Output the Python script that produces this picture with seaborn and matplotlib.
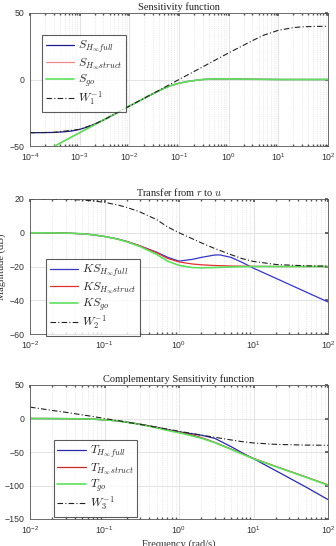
import numpy as np
import pandas as pd
import matplotlib
matplotlib.use("Agg")
import matplotlib.pyplot as plt
import seaborn as sns
from matplotlib.ticker import LogLocator, NullFormatter

# ---------------- data ----------------
# Plot 1: Sensitivity function
s_freq = [1e-4, 2e-4, 3e-4, 5e-4, 7e-4, 1e-3, 1.5e-3, 2e-3, 3e-3, 5e-3, 7e-3, 1e-2, 1.5e-2, 2e-2, 3e-2,
          5e-2, 7e-2, 1e-1, 1.5e-1, 2e-1, 3e-1, 5e-1, 1, 2, 5, 10, 100]
s_full = [-40, -39.9, -39.8, -39.3, -38.7, -37.5, -35.5, -33.5, -30.5, -26.2, -23.2, -20, -16.6, -14.2,
          -10.8, -6.6, -4.5, -2.8, -1.5, -0.8, 0.0, 0.4, 0.5, 0.3, 0.1, 0.0, 0.0]
sgo_freq = [3.16e-4, 5e-4, 1e-3, 2e-3, 3e-3, 5e-3, 1e-2, 2e-2, 3e-2, 5e-2, 7e-2, 1e-1, 1.5e-1, 2e-1,
            3e-1, 5e-1, 1, 2, 5, 10, 100]
s_go = [-50, -46, -40, -34, -30.5, -26.1, -20, -14.1, -10.7, -6.6, -4.5, -2.8, -1.5, -0.8, 0.0, 0.4,
        0.5, 0.3, 0.1, 0.0, 0.0]
s_struct = s_go
w1_freq = [1e-4, 3e-4, 1e-3, 2e-3, 3e-3, 5e-3, 1e-2, 2e-2, 3e-2, 5e-2, 1e-1, 2e-1, 3e-1, 5e-1, 1, 2, 3,
           5, 10, 20, 30, 50, 100]
w1_inv = [-40, -39.8, -37.5, -33.5, -30.5, -26.1, -20, -14, -10.5, -6.1, 0, 6, 9.5, 14, 20, 25.8, 29.2,
          33.2, 37, 39, 39.6, 39.9, 40]

# Plot 2: Transfer from r to u
ks_freq = [1e-2, 2e-2, 3e-2, 5e-2, 7e-2, 1e-1, 1.5e-1, 2e-1, 3e-1, 5e-1, 7e-1, 1, 1.5, 2, 3, 3.5, 5,
           7, 10, 20, 50, 100]
ks_full = [0, -0.1, -0.2, -0.6, -1.2, -2.2, -3.7, -5.2, -7.8, -11.5, -14.5, -16.8, -15.8, -14.6, -13.2,
           -13.1, -14.6, -17.5, -21, -27, -35, -41]
ks_struct = [0, -0.1, -0.2, -0.6, -1.2, -2.2, -3.7, -5.2, -7.8, -11.8, -15.2, -17.3, -18.5, -19.0, -19.4,
             -19.5, -19.7, -19.8, -19.9, -20, -20, -20]
ks_go = [0, -0.1, -0.2, -0.6, -1.2, -2.2, -3.8, -5.4, -8.2, -12.8, -16.8, -19.3, -20.6, -20.8, -20.6,
         -20.5, -20.3, -20.1, -20, -20, -20, -20]
w2_freq = [1e-2, 2e-2, 3e-2, 5e-2, 7e-2, 1e-1, 1.5e-1, 2e-1, 3e-1, 5e-1, 7e-1, 1, 2, 3, 5, 7, 10, 20,
           50, 100]
w2_inv = [20, 19.9, 19.8, 19.4, 18.9, 18, 16.5, 15, 12.3, 7.8, 3.5, 0, -6, -9.3, -13, -15.3, -17,
          -18.8, -19.6, -19.8]

# Plot 3: Complementary sensitivity function
t_freq = [1e-2, 2e-2, 3e-2, 5e-2, 7e-2, 1e-1, 1.5e-1, 2e-1, 3e-1, 5e-1, 7e-1, 1, 1.5, 2, 3, 5, 7, 10,
          20, 50, 100]
t_full = [0, -0.1, -0.2, -0.5, -1, -2, -3.5, -5.5, -8.5, -13, -16.5, -20, -22.8, -25, -29.5, -42, -51,
          -60, -78, -102, -121]
t_struct = [0, -0.1, -0.2, -0.5, -1, -2, -3.5, -5.5, -8.5, -13.3, -17, -20.5, -24.5, -28.5, -35.5,
            -45.5, -52.5, -59.5, -71.5, -87, -99]
t_go = [0, -0.1, -0.2, -0.5, -1, -2, -3.6, -5.6, -8.8, -14, -17.8, -21.3, -26, -29.5, -36, -46,
        -53, -60, -72, -87.5, -99.5]
w3_freq = [1e-2, 2e-2, 3e-2, 5e-2, 7e-2, 1e-1, 2e-1, 3e-1, 5e-1, 1, 2, 3, 5, 7, 10, 20, 50, 100]
w3_inv = [17, 12, 9.3, 5.5, 3, 0, -5.5, -8.8, -13, -19, -24.8, -28, -32, -34.5, -36.5, -38.6, -39.7, -40]

titles = ["Sensitivity function", "Transfer from $r$ to $u$", "Complementary Sensitivity function"]
labels1 = [r"$S_{H_\infty full}$", r"$S_{H_\infty struct}$", r"$S_{go}$", r"$W_1^{-1}$"]
labels2 = [r"$KS_{H_\infty full}$", r"$KS_{H_\infty struct}$", r"$KS_{go}$", r"$W_2^{-1}$"]
labels3 = [r"$T_{H_\infty full}$", r"$T_{H_\infty struct}$", r"$T_{go}$", r"$W_3^{-1}$"]

# ---------------- style ----------------
sns.set_theme(style="white")
plt.rcParams["font.family"] = ["Liberation Sans", "DejaVu Sans"]
plt.rcParams["mathtext.fontset"] = "cm"
plt.rcParams["xtick.direction"] = "in"
plt.rcParams["ytick.direction"] = "in"

fig = plt.figure(figsize=(3.36, 5.46), dpi=100)
W, H = 336.0, 546.0
boxes = [(30, 13, 328, 146), (30, 199, 328, 334), (30, 385, 328, 519)]
axes = [fig.add_axes([l / W, 1 - b / H, (r - l) / W, (b - t) / H]) for (l, t, r, b) in boxes]

c_blue = "#3535c8"
c_red = "#e03030"
c_green = "#5ee05e"
serif = ["Liberation Serif", "DejaVu Serif"]


def panel(ax, series, labels, colors, xlim, ylim, yticks, title, legpos):
    (fx, full), (fs, struct), (fg, go), (fw, w) = series
    sns.lineplot(x=fx, y=full, ax=ax, color=colors[0], lw=0.9, label=labels[0], sort=False)
    sns.lineplot(x=fs, y=struct, ax=ax, color=colors[1], lw=0.9, label=labels[1], sort=False)
    sns.lineplot(x=fg, y=go, ax=ax, color=colors[2], lw=1.2, label=labels[2], sort=False)
    sns.lineplot(x=fw, y=w, ax=ax, color="#222222", lw=0.8, ls=(0, (5, 2, 1, 2)), label=labels[3],
                 sort=False)
    ax.set_xscale("log")
    ax.set_xlim(*xlim)
    ax.set_ylim(*ylim)
    ax.set_yticks(yticks)
    ax.xaxis.set_major_locator(LogLocator(base=10, numticks=20))
    ax.xaxis.set_minor_locator(LogLocator(base=10, subs=np.arange(2, 10), numticks=100))
    ax.xaxis.set_minor_formatter(NullFormatter())
    ax.grid(True, which="major", color="#dedede", lw=0.6, ls="-")
    ax.grid(True, which="minor", axis="x", color="#d8d8d8", lw=0.5, ls=":")
    ax.tick_params(axis="both", which="major", labelsize=6.3, length=2.5, color="#555555",
                   top=True, right=True, labelcolor="#333333")
    ax.tick_params(axis="x", which="major", pad=4)
    ax.tick_params(axis="y", which="major", pad=4)
    ax.tick_params(axis="x", which="minor", length=1.5, top=True, bottom=True, color="#555555")
    for sp in ax.spines.values():
        sp.set_color("#555555")
        sp.set_linewidth(0.6)
    ax.set_title(title, fontsize=7.5, family=serif, pad=2.5, color="#222222")
    ax.set_xlabel("")
    ax.set_ylabel("")
    leg = ax.legend(loc="upper left", bbox_to_anchor=legpos, fontsize=8.6, frameon=True,
                    fancybox=False, edgecolor="#333333", handlelength=2.4, labelspacing=0.08,
                    borderpad=0.3, handletextpad=0.3, borderaxespad=0)
    leg.get_frame().set_linewidth(0.8)


panel(axes[0], [(s_freq, s_full), (sgo_freq, s_struct), (sgo_freq, s_go), (w1_freq, w1_inv)],
      labels1, ["#1c1c90", "#f08a8a", c_green], (1e-4, 1e2), (-50, 50), [-50, 0, 50], titles[0],
      (0.04, 0.835))

panel(axes[1], [(ks_freq, ks_full), (ks_freq, ks_struct), (ks_freq, ks_go), (w2_freq, w2_inv)],
      labels2, [c_blue, c_red, c_green], (1e-2, 1e2), (-60, 20), [-60, -40, -20, 0, 20], titles[1],
      (0.054, 0.556))
axes[1].set_ylabel("Magnitude (dB)", fontsize=7.5, family=serif, labelpad=2.5, color="#333333")

panel(axes[2], [(t_freq, t_full), (t_freq, t_struct), (t_freq, t_go), (w3_freq, w3_inv)],
      labels3, ["#2a2aa8", "#c82828", c_green], (1e-2, 1e2), (-150, 50), [-150, -100, -50, 0, 50],
      titles[2], (0.08, 0.59))
axes[2].set_xlabel("Frequency (rad/s)", fontsize=7.5, family=serif, labelpad=2, color="#333333")

fig.savefig("out.png", dpi=100)
